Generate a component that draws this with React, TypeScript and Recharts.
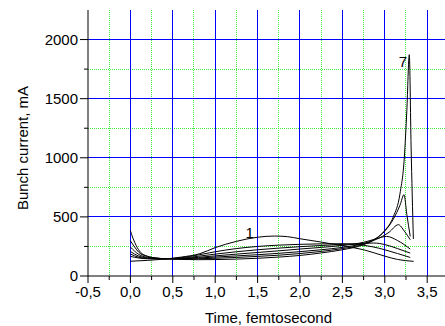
import React from 'react';
import { LineChart, Line, XAxis, YAxis, CartesianGrid, ReferenceDot } from 'recharts';

// time, femtosecond / bunch current, mA
const curve1: [number, number][] = [
  [0, 125], [0.2, 132], [0.4, 143], [0.6, 160], [0.82, 189], [1.0, 240], [1.25, 293],
  [1.5, 328], [1.7, 338], [1.85, 333], [2.0, 315], [2.25, 287], [2.5, 256], [2.75, 222],
  [3.0, 168], [3.15, 140], [3.34, 124],
];
const curve2: [number, number][] = [
  [0, 166], [0.1, 152], [0.2, 146], [0.4, 145], [0.6, 155], [0.8, 178], [1.0, 205],
  [1.25, 232], [1.5, 250], [1.75, 261], [2.0, 268], [2.25, 272], [2.5, 273], [2.65, 268],
  [2.85, 248], [3.0, 222], [3.15, 190], [3.3, 157],
];
const curve3: [number, number][] = [
  [0, 186], [0.05, 170], [0.1, 158], [0.2, 148], [0.4, 145], [0.6, 150], [0.8, 167],
  [1.0, 185], [1.25, 205], [1.5, 222], [1.75, 236], [2.0, 248], [2.25, 258], [2.5, 267],
  [2.75, 276], [2.87, 279], [3.0, 266], [3.15, 232], [3.3, 194],
];
const curve4: [number, number][] = [
  [0, 208], [0.05, 185], [0.1, 168], [0.2, 152], [0.4, 146], [0.6, 148], [0.8, 158],
  [1.0, 170], [1.25, 185], [1.5, 199], [1.75, 213], [2.0, 228], [2.25, 242], [2.5, 258],
  [2.75, 285], [2.9, 315], [3.02, 335], [3.15, 300], [3.3, 228],
];
const curve5: [number, number][] = [
  [0, 245], [0.05, 210], [0.1, 182], [0.2, 158], [0.4, 147], [0.6, 146], [0.8, 152],
  [1.0, 160], [1.25, 170], [1.5, 180], [1.75, 192], [2.0, 206], [2.25, 222], [2.5, 242],
  [2.75, 275], [2.9, 310], [3.05, 370], [3.16, 434], [3.23, 380], [3.3, 307],
];
const curve6: [number, number][] = [
  [0, 298], [0.05, 245], [0.1, 200], [0.2, 165], [0.3, 152], [0.4, 147], [0.6, 144],
  [0.8, 146], [1.0, 150], [1.25, 157], [1.5, 166], [1.75, 176], [2.0, 190], [2.25, 208],
  [2.5, 232], [2.75, 270], [2.9, 320], [3.0, 380], [3.1, 480], [3.18, 600], [3.227, 688],
  [3.26, 520], [3.3, 335],
];
const curve7: [number, number][] = [
  [0, 383], [0.03, 320], [0.07, 255], [0.12, 200], [0.2, 168], [0.3, 152], [0.4, 146],
  [0.6, 140], [0.8, 138], [1.0, 139], [1.25, 143], [1.5, 150], [1.75, 160], [2.0, 174],
  [2.25, 195], [2.5, 222], [2.75, 265], [2.9, 318], [3.0, 385], [3.1, 500], [3.18, 700],
  [3.23, 1000], [3.26, 1400], [3.289, 1872], [3.31, 1100], [3.337, 313],
];

const curves = [curve1, curve2, curve3, curve4, curve5, curve6, curve7];

const xTicks = [-0.5, -0.25, 0, 0.25, 0.5, 0.75, 1, 1.25, 1.5, 1.75, 2, 2.25, 2.5, 2.75, 3, 3.25, 3.5];
const yTicks = [0, 250, 500, 750, 1000, 1250, 1500, 1750, 2000];
const xMajorGrid = [0, 0.5, 1, 1.5, 2, 2.5, 3, 3.5];
const xMinorGrid = [-0.25, 0.25, 0.75, 1.25, 1.75, 2.25, 2.75, 3.25];
const yMajorGrid = [500, 1000, 1500, 2000];
const yMinorGrid = [250, 750, 1250, 1750];

const curveLabels = [
  { t: 1.408, v: 363, text: '1' },
  { t: 3.215, v: 1816, text: '7' },
];

const xDomain: [number, number] = [-0.5, 3.71];
const yDomain: [number, number] = [0, 2250];

const font = "Arial, 'Liberation Sans', sans-serif";
const isMajorX = (v: number) => Math.abs(v * 2 - Math.round(v * 2)) < 1e-6;
const isMajorY = (v: number) => v % 500 === 0;

// map a value through the axis scale handed to the grid generators, snapped to a pixel centre
const scaleOf = (axis: any, v: number): number => {
  const s = axis?.scale;
  if (!s) return NaN;
  let p = NaN;
  if (typeof s === 'function') p = s(v);
  else if (typeof s.map === 'function') p = s.map(v);
  return Math.floor(p) + 0.5;
};

const XTick = (props: any) => {
  const { x, y, payload } = props;
  const major = isMajorX(payload.value);
  return (
    <g>
      <line x1={x} x2={x} y1={y} y2={y + (major ? 7 : 4)} stroke="#000" />
      {major && (
        <text x={x} y={y + 21} textAnchor="middle" fontSize={15} fontFamily={font} fill="#000">
          {payload.value.toFixed(1).replace('.', ',')}
        </text>
      )}
    </g>
  );
};

const YTick = (props: any) => {
  const { x, y, payload } = props;
  const major = isMajorY(payload.value);
  return (
    <g>
      <line x1={x} x2={x - (major ? 8 : 4)} y1={y} y2={y} stroke="#000" />
      {major && (
        <text x={x - 10} y={y + 5} textAnchor="end" fontSize={15} fontFamily={font} fill="#000">
          {payload.value}
        </text>
      )}
    </g>
  );
};

const App: React.FC = () => {
  return (
    <div style={{ position: 'absolute', left: 0, top: 0, width: 445, height: 326, background: '#fff' }}>
      <LineChart width={445} height={326} margin={{ top: 10, right: 0, left: 0, bottom: 0 }}>
        <CartesianGrid
          stroke="#44e844"
          strokeDasharray="1 1"
          verticalCoordinatesGenerator={({ xAxis }: any) => xMinorGrid.map((v) => scaleOf(xAxis, v))}
          horizontalCoordinatesGenerator={({ yAxis }: any) => yMinorGrid.map((v) => scaleOf(yAxis, v))}
        />
        <CartesianGrid
          stroke="#0000ff"
          verticalCoordinatesGenerator={({ xAxis }: any) => xMajorGrid.map((v) => scaleOf(xAxis, v))}
          horizontalCoordinatesGenerator={({ yAxis }: any) => yMajorGrid.map((v) => scaleOf(yAxis, v))}
        />
        <XAxis
          type="number"
          dataKey="t"
          domain={xDomain}
          allowDataOverflow
          ticks={xTicks}
          interval={0}
          tickSize={0}
          tickMargin={0}
          tickLine={false}
          tick={(p: any) => <XTick {...p} />}
          axisLine={{ stroke: '#000' }}
          height={50}
          label={{
            content: (p: any) => {
              const vb = p.viewBox;
              return (
                <text x={vb.x + vb.width / 2 + 2} y={vb.y + 47} textAnchor="middle" fontSize={15} fontFamily={font} fill="#000">
                  Time, femtosecond
                </text>
              );
            },
          }}
        />
        <YAxis
          type="number"
          domain={yDomain}
          allowDataOverflow
          ticks={yTicks}
          interval={0}
          tickSize={0}
          tickMargin={0}
          tickLine={false}
          tick={(p: any) => <YTick {...p} />}
          axisLine={{ stroke: '#000' }}
          width={88}
          label={{
            content: (p: any) => {
              const vb = p.viewBox;
              const cx = vb.x + 22;
              const cy = vb.y + vb.height / 2 + 5;
              return (
                <text x={cx} y={cy} transform={`rotate(-90 ${cx} ${cy})`} textAnchor="middle" dominantBaseline="central" fontSize={15} fontFamily={font} fill="#000">
                  Bunch current, mA
                </text>
              );
            },
          }}
        />
        {curves.map((c, i) => (
          <Line
            key={i}
            data={c.map(([t, v]) => ({ t, v }))}
            dataKey="v"
            type="monotone"
            stroke="#000"
            strokeWidth={1}
            dot={false}
            activeDot={false}
            isAnimationActive={false}
          />
        ))}
        {curveLabels.map((l) => (
          <ReferenceDot
            key={l.text}
            x={l.t}
            y={l.v}
            r={0}
            fill="none"
            stroke="none"
            label={{ value: l.text, position: 'center', fontSize: 15, fontFamily: font, fill: '#000' }}
          />
        ))}
      </LineChart>
    </div>
  );
};

export default App;
